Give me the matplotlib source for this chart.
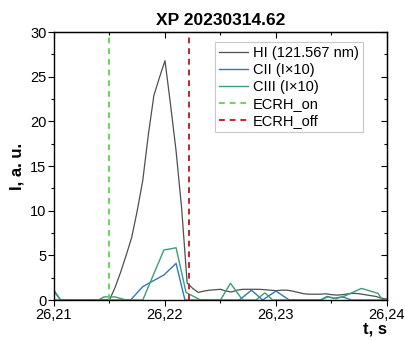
import matplotlib
matplotlib.use("Agg")
import matplotlib.pyplot as plt
import numpy as np

plt.rcParams['font.family'] = ['Liberation Sans', 'DejaVu Sans']

# HI sampled every 0.5 ms from 26.210 to 26.240
t_hi = np.round(np.linspace(26.210, 26.240, 61), 4)
hi = [0, 0, 0, 0, 0, 0, 0, 0, 0, 0, 0,
      1.4, 3.1, 5.0, 7.0, 10.0, 13.4, 18.5, 22.9, 24.9, 26.8,
      21.9, 16.7, 10.3, 1.9, 1.3, 0.85, 1.0, 1.1, 1.15, 1.2,
      1.0, 0.9, 1.1, 1.2, 1.2, 1.2, 1.2, 1.15, 1.1, 1.05,
      1.1, 1.1, 1.0, 0.85, 0.7, 0.65, 0.65, 0.65, 0.7, 0.6,
      0.55, 0.6, 0.7, 0.75, 0.7, 0.6, 0.5, 0.4, 0.2, 0.1]

# CII (x10)
t_c2 = [26.2100, 26.2106, 26.2150, 26.2169, 26.2180, 26.2199, 26.2210, 26.2218,
        26.2267, 26.2278, 26.2288, 26.2300, 26.2312, 26.2340, 26.2346, 26.2352,
        26.2360, 26.2368, 26.2400]
c2 = [0.95, 0, 0, 0, 1.5, 2.8, 4.1, 0,
      0, 1.1, 0, 1.0, 0, 0, 0.4, 0.2,
      0.35, 0, 0]

# CIII (x10)
t_c3 = [26.2100, 26.2106, 26.2140, 26.2145, 26.2155, 26.2165, 26.2180, 26.2199,
        26.2210, 26.2219, 26.2232, 26.2250, 26.2259, 26.2270, 26.2282, 26.2290,
        26.2297, 26.2340, 26.2347, 26.2354, 26.2362, 26.2377, 26.2392, 26.2396, 26.2400]
c3 = [1.1, 0, 0, 0.35, 0.35, 0, 0, 5.6,
      5.85, 0.85, 0, 0, 1.87, 0, 0, 0.8,
      0, 0, 0.35, 0.15, 0.45, 1.3, 0.75, 0, 0]

ecrh_on = 26.2150
ecrh_off = 26.2222

xticks = [26.21, 26.22, 26.23, 26.24]
xticklabels = ['26,21', '26,22', '26,23', '26,24']
yticks = [0, 5, 10, 15, 20, 25, 30]
xminor = [26.215, 26.225, 26.235]
yminor = [2.5, 7.5, 12.5, 17.5, 22.5, 27.5]

fig = plt.figure(figsize=(4.06, 3.40), dpi=100)
ax = fig.add_axes([0.133, 0.1176, 0.820, 0.788])

ax.plot(t_hi, hi, color='#4f4f4f', lw=0.9, label='HI (121.567 nm)')
ax.plot(t_c2, c2, color='#3278c0', lw=1.0, label='CII (I\u00d710)')
ax.plot(t_c3, c3, color='#3a9f72', lw=1.0, label='CIII (I\u00d710)')
ax.axvline(ecrh_on, color='#66d855', lw=1.4, ls=(0, (3, 2.5)), label='ECRH_on')
ax.axvline(ecrh_off, color='#c0262c', lw=1.4, ls=(0, (3, 2.5)), label='ECRH_off')

ax.set_xlim(26.21, 26.24)
ax.set_ylim(0, 30)
ax.set_xticks(xticks)
ax.set_xticklabels(xticklabels)
ax.set_yticks(yticks)
ax.set_xticks(xminor, minor=True)
ax.set_yticks(yminor, minor=True)
ax.tick_params(which='both', direction='out', labelsize=10.5, width=0.8, pad=1.5)
ax.tick_params(which='major', length=4)
ax.tick_params(which='minor', length=2.5)

# inward ticks on top and right
top = ax.secondary_xaxis('top')
top.set_xticks(xticks)
top.set_xticks(xminor, minor=True)
top.tick_params(which='both', direction='in', labeltop=False, width=0.8)
top.tick_params(which='major', length=4)
top.tick_params(which='minor', length=2.5)
right = ax.secondary_yaxis('right')
right.set_yticks(yticks)
right.set_yticks(yminor, minor=True)
right.tick_params(which='both', direction='in', labelright=False, width=0.8)
right.tick_params(which='major', length=4)
right.tick_params(which='minor', length=2.5)

for s in ax.spines.values():
    s.set_linewidth(1.0)

ax.set_title('XP 20230314.62', fontsize=12.5, fontweight='bold', pad=5)
ax.set_ylabel('I, a. u.', fontsize=12, fontweight='bold', labelpad=4)
ax.set_xlabel('t, s', fontsize=12, fontweight='bold', loc='right', labelpad=0)

leg = ax.legend(loc='upper right', bbox_to_anchor=(0.928, 0.963), fontsize=10.5,
                frameon=True, fancybox=False, edgecolor='#bbbbbb',
                handlelength=2.0, handletextpad=0.3, labelspacing=0.2,
                borderpad=0.3, borderaxespad=0)
leg.get_frame().set_linewidth(0.8)

fig.savefig('out.png', dpi=100)
